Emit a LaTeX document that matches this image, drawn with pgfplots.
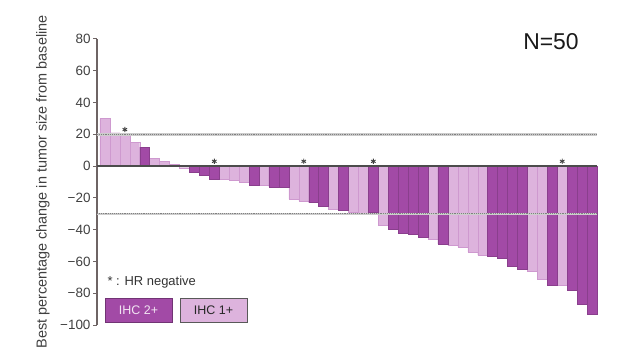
\documentclass[border=0pt]{standalone}
\usepackage{pgfplots}
\pgfplotsset{compat=1.18}
\usepackage{fontspec}
\setmainfont{Liberation Sans}
\definecolor{dk}{HTML}{A24AA6}
\definecolor{lt}{HTML}{DDB3DD}
\definecolor{axc}{HTML}{6E6464}
\begin{document}
\begin{tikzpicture}[x=1bp,y=1bp]
\useasboundingbox (0,0) rectangle (624,359);
\begin{axis}[
  at={(97bp,34bp)}, anchor=south west,
  scale only axis, width=500bp, height=286bp,
  xmin=0.2, xmax=50.5, ymin=-100, ymax=80,
  axis x line=none, axis y line*=left,
  ytick={-100,-80,-60,-40,-20,0,20,40,60,80},
  yticklabels={−100,−80,−60,−40,−20,0,20,40,60,80},
  tick align=outside, major tick length=4bp,
  y axis line style={axc, line width=1.3bp},
  ytick style={axc, line width=1bp},
  yticklabel style={font=\fontsize{13.5}{13.5}\selectfont, text=black!75, xshift=1bp},
  ylabel={Best percentage change in tumor size from baseline},
  ylabel style={at={(axis description cs:-0.108,0.5)}, anchor=center, font=\fontsize{14.5}{15}\selectfont, text=black!75},
  clip=false,
]
\addplot[ybar, bar width=1, bar shift=0pt, fill=lt, draw=lt!75!dk, line width=0.4bp] coordinates {
 (1,30) (2,21) (3,20) (4,15) (6,5) (7,3) (8,1) (9,-1)
 (13,-8) (14,-9) (15,-10) (17,-12) (20,-21) (21,-22) (24,-27)
 (26,-29) (27,-29.5) (29,-37) (34,-46) (36,-50) (37,-51) (38,-54) (39,-56)
 (44,-66) (45,-71) (47,-75)
};
\addplot[ybar, bar width=1, bar shift=0pt, fill=dk, draw=dk!85!black, line width=0.4bp] coordinates {
 (5,12) (10,-4) (11,-6) (12,-8) (16,-12) (18,-13) (19,-13) (22,-23) (23,-25)
 (25,-28) (28,-29) (30,-40) (31,-42) (32,-43) (33,-45) (35,-49)
 (40,-57) (41,-58) (42,-63) (43,-65) (46,-75) (48,-78) (49,-87) (50,-93)
};
\addplot[gray!40, line width=2.5bp] coordinates {(0.2,20) (50.5,20)};
\addplot[black!50, densely dotted, line width=0.9bp] coordinates {(0.2,20) (50.5,20)};
\addplot[gray!40, line width=2.5bp] coordinates {(0.2,-30) (50.5,-30)};
\addplot[black!50, densely dotted, line width=0.9bp] coordinates {(0.2,-30) (50.5,-30)};
\addplot[black!70, line width=1.3bp] coordinates {(0.2,0) (50.5,0)};
\addplot[only marks, mark=asterisk, mark size=2.6bp, line width=0.9bp, black!75] coordinates {(3,23) (12,3) (21,3) (28,3) (47,3)};
\end{axis}
\node[anchor=west, font=\fontsize{13}{13}\selectfont, text=black!80] at (104,77) {* : HR negative};
\node[fill=dk, draw=dk!70!black, line width=0.9bp, minimum width=67bp, minimum height=24bp, text=white!85!dk, font=\fontsize{12.5}{12.5}\selectfont] at (138.5,49) {IHC 2+};
\node[fill=lt, draw=gray!70!black, line width=0.9bp, minimum width=67bp, minimum height=24bp, text=black!85, font=\fontsize{12.5}{12.5}\selectfont] at (213.5,49) {IHC 1+};
\node[font=\fontsize{23}{23}\selectfont, text=black!90] at (551,317) {N=50};
\end{tikzpicture}
\end{document}
